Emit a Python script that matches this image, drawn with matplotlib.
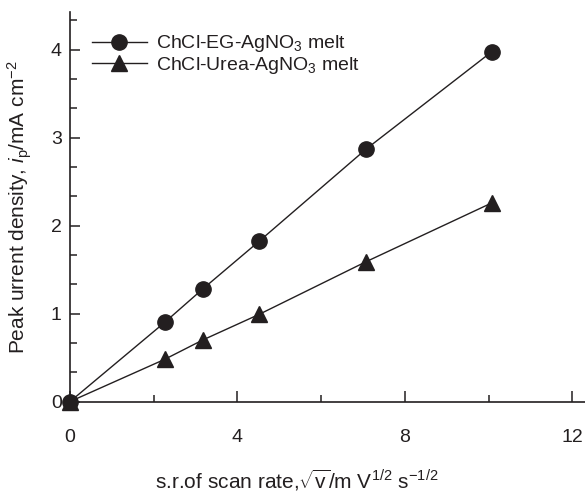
import matplotlib
matplotlib.use("Agg")
import matplotlib.pyplot as plt
from matplotlib.ticker import FixedLocator

plt.rcParams["font.family"] = ["Liberation Sans", "DejaVu Sans"]
plt.rcParams["mathtext.fontset"] = "custom"
plt.rcParams["mathtext.rm"] = "Liberation Sans"
plt.rcParams["mathtext.it"] = "Liberation Sans:italic"

# square root of scan rate (x) and peak current density (y)
sqrt_scan_rate = [0, 2.26, 3.17, 4.51, 7.07, 10.08]
eg_current = [0, 0.90, 1.28, 1.82, 2.87, 3.98]
urea_current = [0, 0.48, 0.70, 0.99, 1.59, 2.26]

series_labels = ["ChCl-EG-AgNO$_3$ melt", "ChCl-Urea-AgNO$_3$ melt"]
x_ticks = [0, 4, 8, 12]
y_ticks = [0, 1, 2, 3, 4]

INK = "#231f20"

fig = plt.figure(figsize=(5.85, 4.97), dpi=100)
ax = fig.add_axes([0.1197, 0.192, 0.8803, 0.784])

ax.plot(sqrt_scan_rate, eg_current, color=INK, lw=1.0, marker="o", ms=11,
        clip_on=False, zorder=3, label=series_labels[0])
ax.plot(sqrt_scan_rate, urea_current, color=INK, lw=1.0, marker="^", ms=12,
        clip_on=False, zorder=3, label=series_labels[1])

ax.set_xlim(0, 12.3)
ax.set_ylim(0, 4.43)

ax.xaxis.set_major_locator(FixedLocator(x_ticks))
ax.xaxis.set_minor_locator(FixedLocator([2, 6, 10]))
ax.yaxis.set_major_locator(FixedLocator(y_ticks))
ax.yaxis.set_minor_locator(FixedLocator([k / 3 for k in range(1, 14) if k % 3]))

ax.spines[["top", "right"]].set_visible(False)
for side in ("left", "bottom"):
    ax.spines[side].set_linewidth(1.2)
    ax.spines[side].set_color(INK)

ax.tick_params(which="both", direction="in", colors=INK, width=1.1, labelsize=14)
ax.tick_params(axis="x", which="major", length=8, pad=20)
ax.tick_params(axis="x", which="minor", length=5)
ax.tick_params(axis="y", which="major", length=7, pad=6)
ax.tick_params(axis="y", which="minor", length=5)

ax.set_xlabel(r"s.r.of scan rate,$\sqrt{\mathrm{v}}$/m V$^{1/2}$ s$^{-1/2}$",
              fontsize=15, color=INK, labelpad=12)
ax.xaxis.set_label_coords(0.44, -0.17)
ax.set_ylabel(r"Peak urrent density, $i_\mathrm{p}$/mA cm$^{-2}$",
              fontsize=15, color=INK)
ax.yaxis.set_label_coords(-0.07, 0.5)

leg = ax.legend(loc="upper left", bbox_to_anchor=(0.028, 0.965), frameon=False,
                fontsize=14, handlelength=2.8, handletextpad=0.5,
                labelspacing=0.02, borderaxespad=0)
for t in leg.get_texts():
    t.set_color(INK)

fig.savefig("out.png", dpi=100)
